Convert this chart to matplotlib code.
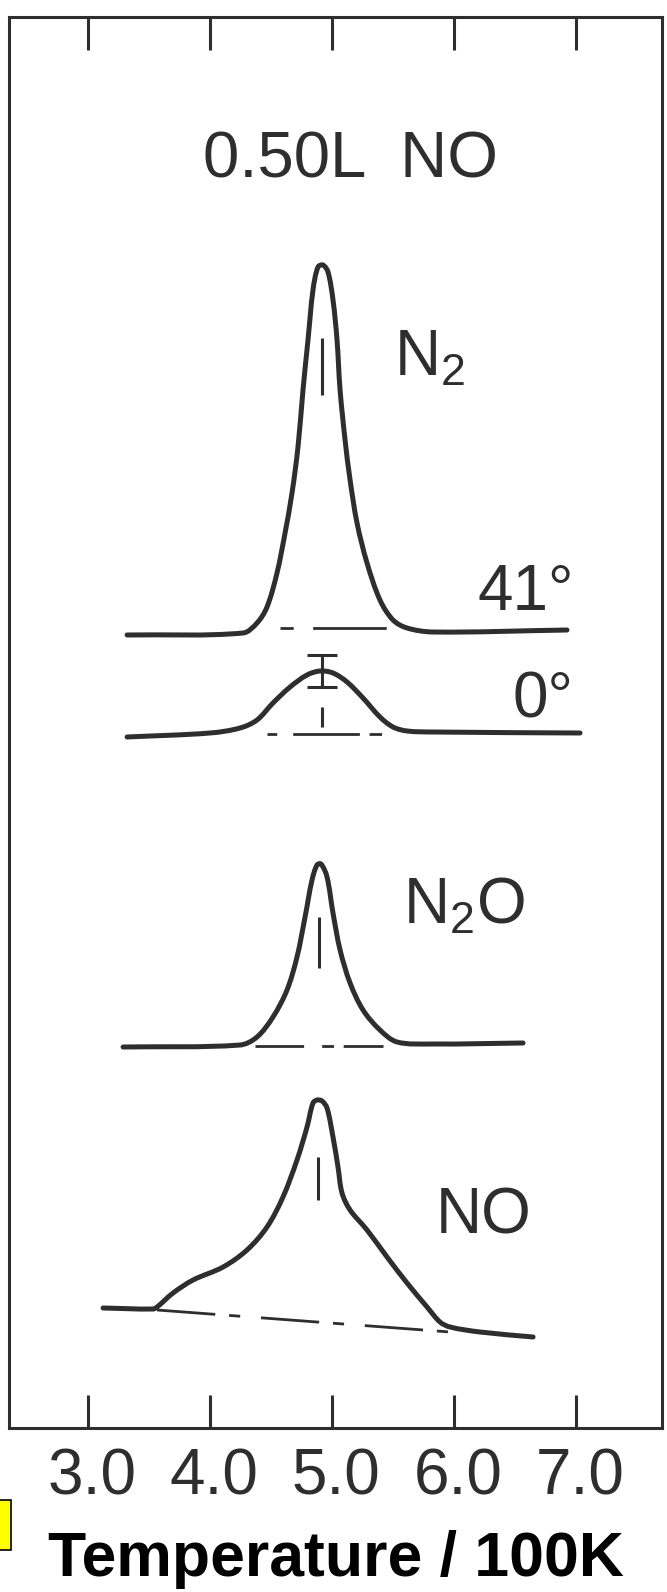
import numpy as np
import matplotlib
matplotlib.use('Agg')
import matplotlib.pyplot as plt
from matplotlib.patches import Rectangle, PathPatch
from matplotlib.path import Path
from matplotlib.transforms import ScaledTranslation

plt.rcParams['font.family'] = ['Liberation Sans', 'DejaVu Sans']
plt.rcParams['mathtext.fontset'] = 'custom'
plt.rcParams['mathtext.rm'] = 'Liberation Sans'
plt.rcParams['lines.scale_dashes'] = False

INK = '#2e2e2e'

# desorption traces, temperature in units of 100 K, signal in arb. units (offset per trace)
n2_41_temp = [3.320, 4.270, 4.385, 4.467, 4.549, 4.615, 4.672, 4.721, 4.762, 4.803, 4.844,
              4.885, 4.926, 4.967, 5.008, 5.041, 5.066, 5.107, 5.148, 5.205, 5.287, 5.393,
              5.500, 5.615, 5.828, 6.926]
n2_41_sig = [7.93, 7.95, 8.05, 8.21, 8.55, 8.95, 9.35, 9.81, 10.38, 10.88, 11.38,
             11.61, 11.63, 11.56, 11.28, 10.88, 10.38, 9.88, 9.48, 9.05, 8.65, 8.28,
             8.08, 8.00, 7.96, 7.98]

n2_0_temp = [3.320, 4.000, 4.246, 4.385, 4.516, 4.656, 4.795, 4.902, 5.008, 5.123, 5.254,
             5.393, 5.500, 5.615, 5.828, 7.033]
n2_0_sig = [6.91, 6.95, 7.00, 7.08, 7.25, 7.41, 7.53, 7.57, 7.55, 7.46, 7.30,
            7.11, 7.01, 6.97, 6.96, 6.95]
n2_0_err = 0.16

n2o_temp = [3.287, 4.246, 4.385, 4.516, 4.631, 4.713, 4.779, 4.836, 4.877, 4.910, 4.959,
            5.008, 5.066, 5.148, 5.254, 5.393, 5.533, 5.828, 6.566]
n2o_sig = [3.81, 3.83, 3.91, 4.11, 4.38, 4.71, 5.11, 5.48, 5.63, 5.64, 5.51,
           5.15, 4.78, 4.45, 4.18, 3.98, 3.86, 3.84, 3.85]

no_temp = [3.123, 3.533, 3.566, 3.697, 3.861, 4.107, 4.303, 4.467, 4.598, 4.713, 4.795,
           4.844, 4.877, 4.918, 4.959, 5.008, 5.049, 5.082, 5.148, 5.287, 5.451, 5.615,
           5.779, 5.885, 5.967, 6.213, 6.648]
no_sig = [1.20, 1.19, 1.21, 1.35, 1.48, 1.61, 1.78, 2.01, 2.31, 2.68, 3.01,
          3.25, 3.28, 3.27, 3.20, 2.91, 2.61, 2.35, 2.18, 1.98, 1.71, 1.45,
          1.21, 1.06, 1.01, 0.96, 0.91]

# background lines under each peak: (T start, T end), (signal start, signal end)
n2_41_bg = ([4.574, 5.451], [8.00, 8.00])
n2_0_bg = ([4.467, 5.410], [6.94, 6.94])
n2o_bg = ([4.369, 5.418], [3.82, 3.82])
no_bg = ([3.566, 5.967], [1.18, 0.96])

# peak temperature markers: T, (signal low, signal high)
n2_41_peak = (4.918, [10.33, 10.90])
n2_0_peak = (4.918, [7.01, 7.21])
n2o_peak = (4.893, [4.60, 5.11])
no_peak = (4.885, [2.28, 2.71])

temp_ticks = [3.0, 4.0, 5.0, 6.0, 7.0]
temp_labels = ['3.0', '4.0', '5.0', '6.0', '7.0']

fig = plt.figure(figsize=(6.67, 15.92), dpi=100)
ax = fig.add_axes([9 / 667, 164 / 1592, 653 / 667, 1411 / 1592])
ax.set_xlim(2.352, 7.705)
ax.set_ylim(0, 14.11)


def smooth_path(t, s):
    # chord-length Catmull-Rom through the points, as cubic Bezier segments
    pts = np.column_stack([t, s])
    disp = ax.transData.transform(pts)
    seg = np.hypot(*np.diff(disp, axis=0).T)
    n = len(pts)
    verts = [pts[0]]
    codes = [Path.MOVETO]
    for i in range(n - 1):
        p1, p2 = pts[i], pts[i + 1]
        if i > 0:
            c1 = p1 + (p2 - pts[i - 1]) * seg[i] / (3 * (seg[i - 1] + seg[i]))
        else:
            c1 = p1 + (p2 - p1) / 3
        if i + 2 < n:
            c2 = p2 - (pts[i + 2] - p1) * seg[i] / (3 * (seg[i] + seg[i + 1]))
        else:
            c2 = p2 - (p2 - p1) / 3
        verts += [c1, c2, p2]
        codes += [Path.CURVE4] * 3
    return Path(verts, codes)


def trace(t, s):
    ax.add_patch(PathPatch(smooth_path(t, s), facecolor='none', edgecolor=INK, lw=3.6,
                           joinstyle='round', capstyle='round'))


def background(bg, dashes):
    ax.plot(bg[0], bg[1], color=INK, lw=2.0, dashes=dashes, dash_capstyle='butt')


def peak_mark(pk):
    ax.plot([pk[0], pk[0]], pk[1], color=INK, lw=2.2, solid_capstyle='butt')


trace(n2_41_temp, n2_41_sig)
trace(n2_0_temp, n2_0_sig)
trace(n2o_temp, n2o_sig)
trace(no_temp, no_sig)

background(n2_41_bg, [9.5, 14, 53, 7])
background(n2_0_bg, [7, 11.5, 48, 7, 9, 7])
background(n2o_bg, [35, 13, 8.5, 7, 29, 7])
background(no_bg, [42, 10, 8, 15])

for pk in (n2_41_peak, n2_0_peak, n2o_peak, no_peak):
    peak_mark(pk)

# error bar on the 0 deg peak
i_max = n2_0_sig.index(max(n2_0_sig))
ax.errorbar([n2_0_peak[0]], [n2_0_sig[i_max]], yerr=n2_0_err, fmt='none',
            ecolor=INK, elinewidth=2.2, capsize=11, capthick=2.2)

txt = dict(color=INK, fontsize=46, va='baseline', ha='left')
ax.text(5.148, 12.51, '0.50L  NO', color=INK, fontsize=47, va='baseline', ha='center')
ax.text(5.51, 10.53, r'N$_\mathrm{2}$', **txt)
ax.text(6.19, 8.18, '41°', **txt)
ax.text(6.48, 7.11, '0°', **txt)
ax.text(5.58, 5.05, r'N$_\mathrm{2}$O', **txt)
ax.text(5.85, 1.95, 'NO', **txt)

for sp in ax.spines.values():
    sp.set_linewidth(2.2)
    sp.set_color(INK)

ax.set_yticks([])
ax.set_xticks(temp_ticks)
ax.set_xticklabels(temp_labels)
ax.tick_params(axis='x', direction='in', length=24, width=2.2, top=True, bottom=True,
               colors=INK, labelsize=46, pad=14)
shift = ScaledTranslation(4 / 100, 0, fig.dpi_scale_trans)
for lab in ax.get_xticklabels():
    lab.set_transform(lab.get_transform() + shift)

ax.set_xlabel('Temperature / 100K', fontsize=45, fontweight='bold', color='black')
ax.xaxis.set_label_coords(0.5, -0.0723)
ax.xaxis.label.set_va('top')

fig.patches.append(Rectangle((-0.01, 42 / 1592), 11 / 667 + 0.01, 50 / 1592,
                             transform=fig.transFigure, facecolor='#ffff00',
                             edgecolor='black', lw=1.2))

fig.savefig('out.png', dpi=100)
